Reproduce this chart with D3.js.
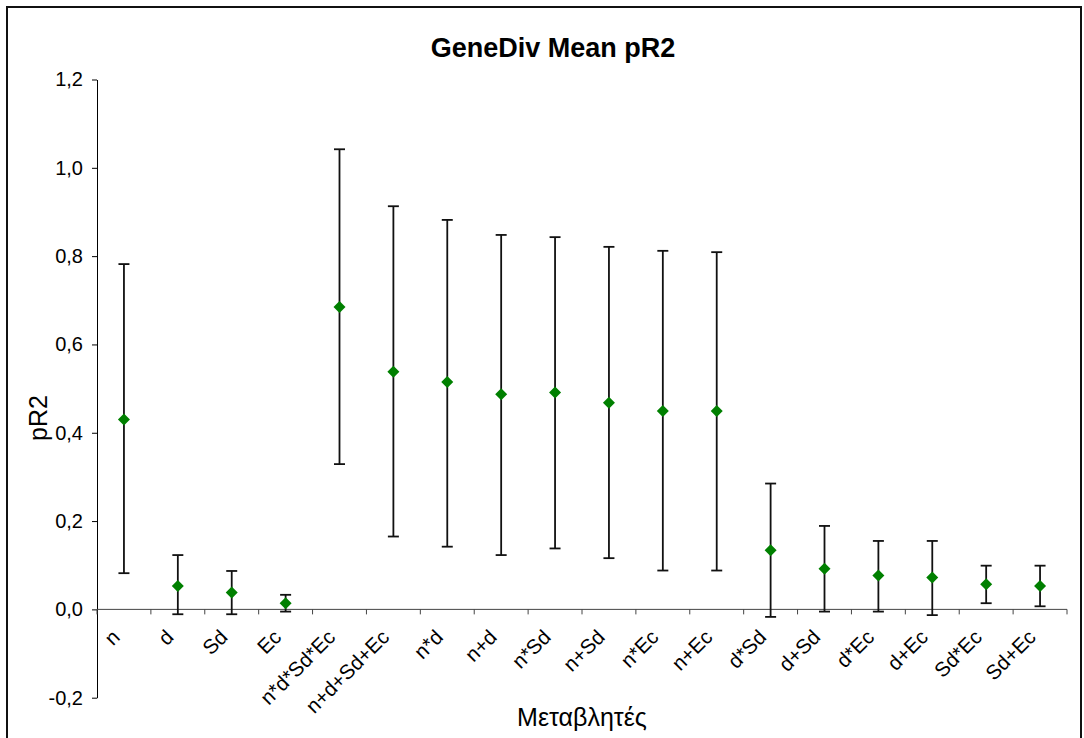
<!DOCTYPE html>
<html>
<head>
<meta charset="utf-8">
<script src="https://cdn.jsdelivr.net/npm/d3@7"></script>
<style>
  body { margin: 0; background: #fff; }
  text { font-family: Arial, "Liberation Sans", sans-serif; fill: #000; }
</style>
</head>
<body>
<svg id="chart"></svg>
<script>
// data
const categories = ["n", "d", "Sd", "Ec", "n*d*Sd*Ec", "n+d+Sd+Ec", "n*d", "n+d", "n*Sd", "n+Sd",
    "n*Ec", "n+Ec", "d*Sd", "d+Sd", "d*Ec", "d+Ec", "Sd*Ec", "Sd+Ec"];
const meanValues  = [0.430, 0.053, 0.038, 0.014, 0.685, 0.538, 0.515, 0.487, 0.491, 0.468,
    0.449, 0.449, 0.134, 0.092, 0.077, 0.072, 0.057, 0.053];
const upperValues = [0.782, 0.123, 0.087, 0.033, 1.042, 0.913, 0.882, 0.848, 0.843, 0.821,
    0.812, 0.809, 0.285, 0.189, 0.155, 0.155, 0.099, 0.099];
const lowerValues = [0.082, -0.011, -0.011, -0.005, 0.329, 0.165, 0.142, 0.123, 0.138, 0.116,
    0.088, 0.088, -0.017, -0.005, -0.005, -0.013, 0.014, 0.007];
const yTicks = [-0.2, 0, 0.2, 0.4, 0.6, 0.8, 1.0, 1.2];

const width = 1084, height = 738;
const margin = { top: 79.5, right: 17, bottom: 40.3, left: 97 };

const svg = d3.select("#chart")
    .attr("width", width)
    .attr("height", height);

svg.append("rect")
    .attr("width", width).attr("height", height)
    .attr("fill", "#fff");

// outer chart border
svg.append("rect")
    .attr("x", 7).attr("y", 7)
    .attr("width", 1074).attr("height", 745)
    .attr("fill", "none")
    .attr("stroke", "#111")
    .attr("stroke-width", 2);

const x = d3.scaleBand()
    .domain(categories)
    .range([margin.left, width - margin.right]);

const y = d3.scaleLinear()
    .domain([-0.2, 1.2])
    .range([height - margin.bottom, margin.top]);

// excel style: comma decimal, plain hyphen for minus
const fmt = d => d3.format(".1f")(d).replace(".", ",").replace("\u2212", "-");

// y axis
const yAxis = svg.append("g")
    .attr("transform", `translate(${margin.left},0)`)
    .call(d3.axisLeft(y).tickValues(yTicks).tickFormat(fmt).tickSize(5).tickSizeOuter(0).tickPadding(9));
yAxis.selectAll("text").style("font-size", "20px").style("font-family", "Arial, 'Liberation Sans', sans-serif");
yAxis.selectAll("line, path").attr("stroke", "#000");

// x axis at zero, ticks between categories
const xAxis = svg.append("g")
    .attr("transform", `translate(0,${y(0)})`);
xAxis.append("line")
    .attr("x1", x.range()[0]).attr("x2", x.range()[1])
    .attr("stroke", "#444");
xAxis.selectAll(".tk")
    .data(categories.concat(["_end"]))
    .join("line")
    .attr("class", "tk")
    .attr("x1", d => d === "_end" ? x.range()[1] : x(d))
    .attr("x2", d => d === "_end" ? x.range()[1] : x(d))
    .attr("y1", 0).attr("y2", 5)
    .attr("stroke", "#444");
xAxis.selectAll(".lbl")
    .data(categories)
    .join("text")
    .attr("class", "lbl")
    .attr("text-anchor", "end")
    .attr("transform", d => `translate(${x(d) + x.bandwidth() / 2 - 3},${29}) rotate(-45)`)
    .style("font-size", "20.5px")
    .text(d => d);

// error bars
const pts = categories.map((c, i) => ({ c, m: meanValues[i], hi: upperValues[i], lo: lowerValues[i] }));
const cx = d => x(d.c) + x.bandwidth() / 2;
const bars = svg.append("g").attr("stroke", "#111").attr("stroke-width", 1.8);
bars.selectAll(".v").data(pts).join("line")
    .attr("x1", cx).attr("x2", cx)
    .attr("y1", d => y(d.lo)).attr("y2", d => y(d.hi));
bars.selectAll(".capHi").data(pts).join("line")
    .attr("x1", d => cx(d) - 5.5).attr("x2", d => cx(d) + 5.5)
    .attr("y1", d => y(d.hi)).attr("y2", d => y(d.hi));
bars.selectAll(".capLo").data(pts).join("line")
    .attr("x1", d => cx(d) - 5.5).attr("x2", d => cx(d) + 5.5)
    .attr("y1", d => y(d.lo)).attr("y2", d => y(d.lo));

// diamond markers
svg.append("g").selectAll("path")
    .data(pts)
    .join("path")
    .attr("d", d3.symbol(d3.symbolSquare, 72))
    .attr("transform", d => `translate(${cx(d)},${y(d.m)}) rotate(45)`)
    .attr("fill", "#008000");

// titles
svg.append("text")
    .attr("x", 553).attr("y", 57)
    .attr("text-anchor", "middle")
    .style("font-size", "27px").style("font-weight", "bold")
    .text("GeneDiv Mean pR2");

svg.append("text")
    .attr("transform", `translate(47,${418}) rotate(-90)`)
    .attr("text-anchor", "middle")
    .style("font-size", "25px")
    .text("pR2");

svg.append("text")
    .attr("x", (x.range()[0] + x.range()[1]) / 2).attr("y", 726)
    .attr("text-anchor", "middle")
    .style("font-size", "25px")
    .text("Μεταβλητές");
</script>
</body>
</html>
